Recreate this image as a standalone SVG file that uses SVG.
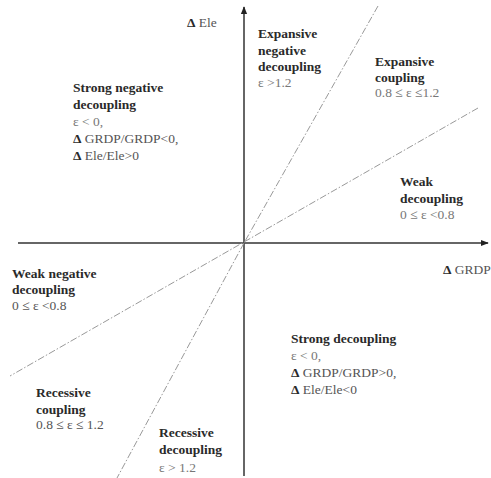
<svg xmlns="http://www.w3.org/2000/svg" width="491" height="478" viewBox="0 0 491 478">
<style>
text{font-family:"Liberation Serif","Times New Roman",serif;font-size:13.5px;fill:#555}
.t{font-weight:bold;fill:#2a2a2a}
.d{font-weight:bold;fill:#2a2a2a}
.e{fill:#777}
.axis{stroke:#333;stroke-width:1.5;fill:none}
.dash{stroke:#999;stroke-width:1;fill:none;stroke-dasharray:7 2 1.5 2}
</style>
<defs>
<marker id="arr" viewBox="0 0 10 10" refX="9" refY="5" markerWidth="8" markerHeight="8" markerUnits="userSpaceOnUse" orient="auto">
<path d="M0,1 L10,5 L0,9 z" fill="#222"/>
</marker>
</defs>
<g id="connectors">
<line class="axis" x1="18" y1="243" x2="488" y2="243" marker-end="url(#arr)"/>
<line class="axis" x1="244" y1="476" x2="244" y2="7" marker-end="url(#arr)"/>
<line class="dash" x1="378" y1="6" x2="244" y2="243"/>
<line class="dash" x1="244" y1="243" x2="117" y2="478"/>
<line class="dash" x1="478" y1="108" x2="10" y2="376"/>
</g>
<g id="label-ele"><text x="187" y="27"><tspan class="d">Δ</tspan> Ele</text></g>
<g id="label-grdp"><text x="443" y="274"><tspan class="d">Δ</tspan> GRDP</text></g>
<g id="strong-negative-decoupling">
<text class="t" x="73" y="92">Strong negative</text>
<text class="t" x="73" y="109">decoupling</text>
<text class="e" x="73" y="126">ε &lt; 0,</text>
<text x="73" y="143"><tspan class="d">Δ</tspan> GRDP/GRDP&lt;0,</text>
<text x="73" y="160"><tspan class="d">Δ</tspan> Ele/Ele&gt;0</text>
</g>
<g id="expansive-negative-decoupling">
<text class="t" x="258" y="38">Expansive</text>
<text class="t" x="258" y="55">negative</text>
<text class="t" x="258" y="71">decoupling</text>
<text class="e" x="258" y="87">ε &gt;1.2</text>
</g>
<g id="expansive-coupling">
<text class="t" x="375" y="66">Expansive</text>
<text class="t" x="375" y="82">coupling</text>
<text class="e" x="375" y="97">0.8 ≤ ε ≤1.2</text>
</g>
<g id="weak-decoupling">
<text class="t" x="400" y="186">Weak</text>
<text class="t" x="400" y="203">decoupling</text>
<text class="e" x="400" y="219">0 ≤ ε &lt;0.8</text>
</g>
<g id="weak-negative-decoupling">
<text class="t" x="12" y="278">Weak negative</text>
<text class="t" x="12" y="294">decoupling</text>
<text x="12" y="310">0 ≤ ε &lt;0.8</text>
</g>
<g id="recessive-coupling">
<text class="t" x="36" y="397">Recessive</text>
<text class="t" x="36" y="414">coupling</text>
<text x="36" y="429">0.8 ≤ ε ≤ 1.2</text>
</g>
<g id="recessive-decoupling">
<text class="t" x="159" y="437">Recessive</text>
<text class="t" x="159" y="454">decoupling</text>
<text class="e" x="159" y="472">ε &gt; 1.2</text>
</g>
<g id="strong-decoupling">
<text class="t" x="291" y="343">Strong decoupling</text>
<text class="e" x="291" y="360">ε &lt; 0,</text>
<text x="291" y="377"><tspan class="d">Δ</tspan> GRDP/GRDP&gt;0,</text>
<text x="291" y="394"><tspan class="d">Δ</tspan> Ele/Ele&lt;0</text>
</g>
</svg>
